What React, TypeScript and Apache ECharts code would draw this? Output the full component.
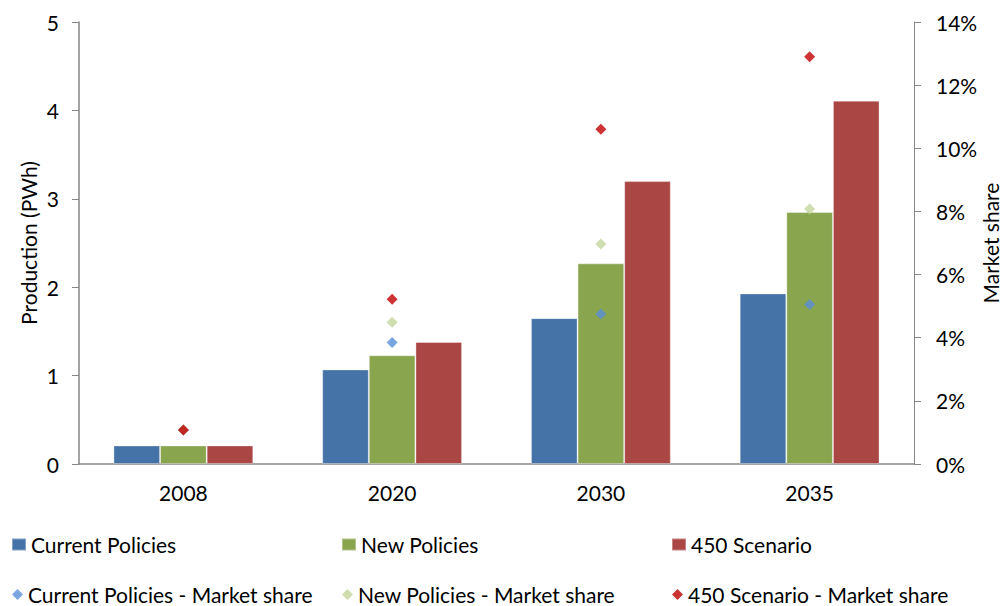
import React, { useEffect, useRef } from "react";
import * as echarts from "echarts";

const categories = ["2008", "2020", "2030", "2035"];
const currentPolicies = [0.21, 1.07, 1.65, 1.93];
const newPolicies = [0.21, 1.23, 2.27, 2.85];
const scenario450 = [0.21, 1.38, 3.2, 4.11];
const currentShare = [1.08, 3.85, 4.75, 5.05];
const newShare = [1.08, 4.49, 6.97, 8.08];
const share450 = [1.08, 5.22, 10.6, 12.9];

const FONT = "Lato, 'Noto Sans', sans-serif";
const AXIS_COLOR = "#868686";
const FS = 21;

export default function App() {
  const ref = useRef<HTMLDivElement>(null);
  useEffect(() => {
    if (!ref.current) return;
    const chart = echarts.init(ref.current, undefined, { renderer: "svg" });
    const legendText = { fontFamily: FONT, fontSize: 21, color: "#000", lineHeight: 20 };
    const mkLegend = (name: string, left: number, top: number, rect: boolean) => ({
      data: [name],
      left,
      top,
      orient: "horizontal",
      icon: rect ? "rect" : "diamond",
      itemWidth: rect ? 14 : 11,
      itemHeight: rect ? 12 : 11,
      textStyle: legendText,
      padding: 0,
      selectedMode: false,
    });
    const barBorder = { borderColor: "rgba(255,255,255,0.35)", borderWidth: 1 };
    chart.setOption({
      animation: false,
      backgroundColor: "#fff",
      textStyle: { fontFamily: FONT },
      grid: {
        left: 79,
        right: 89,
        top: 22,
        bottom: 142,
        containLabel: false,
        outerBoundsMode: "none",
      },
      legend: [
        mkLegend("Current Policies", 11, 534, true),
        mkLegend("New Policies", 341, 534, true),
        mkLegend("450 Scenario", 671, 534, true),
        mkLegend("Current Policies - Market share", 12, 584, false),
        mkLegend("New Policies - Market share", 342, 584, false),
        mkLegend("450 Scenario - Market share", 672, 584, false),
      ],
      xAxis: {
        type: "category",
        data: categories,
        axisLine: { lineStyle: { color: AXIS_COLOR, width: 1.5 } },
        axisTick: { length: 6, lineStyle: { color: AXIS_COLOR } },
        axisLabel: { color: "#000", fontSize: FS, fontFamily: FONT, margin: 18 },
      },
      yAxis: [
        {
          type: "value",
          min: 0,
          max: 5,
          interval: 1,
          name: "Production (PWh)",
          nameLocation: "middle",
          nameRotate: 90,
          nameGap: 40,
          nameMoveOverlap: false,
          nameTextStyle: { color: "#000", fontSize: FS, fontFamily: FONT },
          splitLine: { show: false },
          axisLine: { show: true, lineStyle: { color: AXIS_COLOR, width: 1.5 } },
          axisTick: { show: true, length: 7, lineStyle: { color: AXIS_COLOR } },
          axisLabel: { color: "#000", fontSize: FS, fontFamily: FONT, margin: 20 },
        },
        {
          type: "value",
          min: 0,
          max: 14,
          interval: 2,
          position: "right",
          name: "Market share",
          nameLocation: "middle",
          nameRotate: 90,
          nameGap: 66,
          nameMoveOverlap: false,
          nameTextStyle: { color: "#000", fontSize: FS, fontFamily: FONT },
          splitLine: { show: false },
          axisLine: { show: true, lineStyle: { color: AXIS_COLOR, width: 1 } },
          axisTick: { show: true, length: 7, lineStyle: { color: AXIS_COLOR } },
          axisLabel: {
            color: "#000",
            fontSize: FS,
            fontFamily: FONT,
            margin: 22,
            formatter: "{value}%",
          },
        },
      ],
      series: [
        {
          name: "Current Policies",
          type: "bar",
          data: currentPolicies,
          barGap: "0%",
          barCategoryGap: "33%",
          itemStyle: { color: "#4572A7", ...barBorder },
        },
        {
          name: "New Policies",
          type: "bar",
          data: newPolicies,
          barGap: "0%",
          barCategoryGap: "33%",
          itemStyle: { color: "#89A54E", ...barBorder },
        },
        {
          name: "450 Scenario",
          type: "bar",
          data: scenario450,
          barGap: "0%",
          barCategoryGap: "33%",
          itemStyle: { color: "#AA4643", ...barBorder },
        },
        {
          name: "Current Policies - Market share",
          type: "scatter",
          yAxisIndex: 1,
          data: currentShare,
          symbol: "diamond",
          symbolSize: 11,
          itemStyle: { color: "#5A8FD8" },
        },
        {
          name: "New Policies - Market share",
          type: "scatter",
          yAxisIndex: 1,
          data: newShare,
          symbol: "diamond",
          symbolSize: 11,
          itemStyle: { color: "#C3D69B" },
        },
        {
          name: "450 Scenario - Market share",
          type: "scatter",
          yAxisIndex: 1,
          data: share450,
          symbol: "diamond",
          symbolSize: 11,
          itemStyle: { color: "#C00000" },
        },
      ],
    });
    return () => chart.dispose();
  }, []);
  return (
    <div
      ref={ref}
      style={{ position: "fixed", left: 0, top: 0, width: 1003, height: 606 }}
    />
  );
}
